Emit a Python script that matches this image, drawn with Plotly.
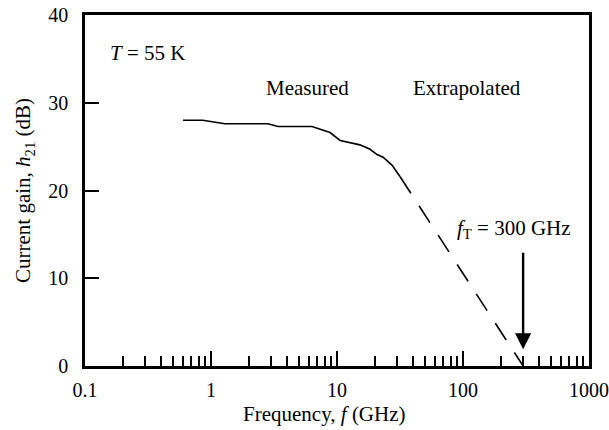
import plotly.graph_objects as go
import math

# Measured current gain (solid)
freq_meas = [0.60, 0.86, 1.29, 2.83, 3.40, 6.33, 8.80, 10.6, 15.2, 18.3, 20.8, 23.2, 27.3, 30.5, 31.6]
gain_meas = [28.0, 28.0, 27.6, 27.6, 27.3, 27.3, 26.6, 25.7, 25.2, 24.7, 24.1, 23.8, 22.9, 21.9, 21.6]

# Extrapolated -20 dB/decade (dashed)
freq_extr = [31.6, 300]
gain_extr = [21.6, 0]

fT = 300

FONT = "Liberation Serif, Times New Roman, serif"
FS = 21

fig = go.Figure()
fig.add_trace(go.Scatter(x=freq_meas, y=gain_meas, mode="lines",
                         line=dict(color="black", width=1.6), showlegend=False))
fig.add_trace(go.Scatter(x=freq_extr, y=gain_extr, mode="lines",
                         line=dict(color="black", width=1.6, dash="20px,15px"), showlegend=False))

fig.add_annotation(x=math.log10(fT), y=1.9, xref="x", yref="y",
                   ax=0, ay=-98, showarrow=True, arrowhead=2, arrowwidth=2.4,
                   arrowsize=1.35, arrowcolor="black", text="")

txt = dict(family=FONT, size=FS, color="black")
tickf = dict(family=FONT, size=20, color="black")
fig.add_annotation(x=0.046, y=0.892, xref="paper", yref="paper", xanchor="left", yanchor="middle",
                   text="<i>T</i> = 55 K", showarrow=False, font=txt)
fig.add_annotation(x=0.441, y=0.792, xref="paper", yref="paper", xanchor="center", yanchor="middle",
                   text="Measured", showarrow=False, font=txt)
fig.add_annotation(x=0.758, y=0.792, xref="paper", yref="paper", xanchor="center", yanchor="middle",
                   text="Extrapolated", showarrow=False, font=txt)
fig.add_annotation(x=0.851, y=0.391, xref="paper", yref="paper", xanchor="center", yanchor="middle",
                   text="<i>f</i><sub>T</sub> = 300 GHz", showarrow=False, font=txt)
# x-axis title placed as in the reference (slightly left of centre)
fig.add_annotation(x=0.476, y=-0.136, xref="paper", yref="paper", xanchor="center",
                   yanchor="middle", text="Frequency, <i>f</i> (GHz)", showarrow=False, font=txt)

fig.update_xaxes(type="log", range=[-1, 3], automargin=False,
                 tickvals=[0.1, 1, 10, 100, 1000], ticktext=["0.1", "1", "10", "100", "1000"],
                 ticks="inside", ticklen=15, tickwidth=2, tickcolor="black",
                 minor=dict(dtick="D1", ticks="inside", ticklen=10, tickwidth=2, tickcolor="black",
                            showgrid=False),
                 showline=True, linewidth=2.5, linecolor="black", mirror=True,
                 showgrid=False, zeroline=False, ticklabelstandoff=4,
                 tickfont=tickf)
fig.update_yaxes(range=[0, 40], automargin=False, tickvals=[0, 10, 20, 30, 40],
                 ticks="inside", ticklen=14, tickwidth=2, tickcolor="black",
                 showline=True, linewidth=2.5, linecolor="black", mirror=True,
                 showgrid=False, zeroline=False, ticklabelstandoff=10,
                 title=dict(text="Current gain, <i>h</i><sub>21</sub> (dB)", font=txt, standoff=12),
                 tickfont=tickf)

fig.update_layout(width=609, height=430, margin=dict(l=85, r=20, t=15, b=64),
                  paper_bgcolor="white", plot_bgcolor="white",
                  font=dict(family=FONT, size=FS, color="black"))

fig.write_html("out.html")
